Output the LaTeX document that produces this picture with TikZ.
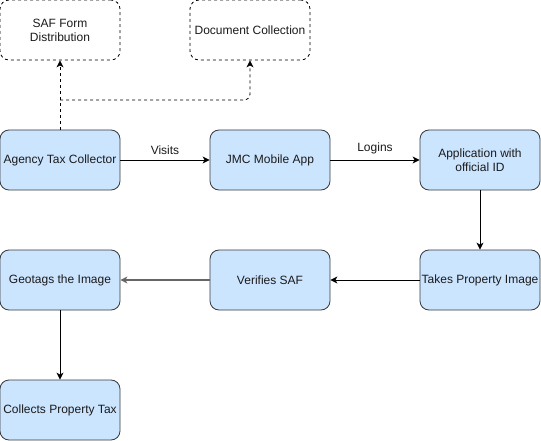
\documentclass[tikz,border=0pt]{standalone}
\usepackage{fontspec}
\setmainfont{Liberation Sans}
\usepackage{tikz}
\usetikzlibrary{calc,arrows,arrows.meta,positioning}
\tikzset{>={Stealth[length=7pt,width=7pt,inset=2pt]}}
\definecolor{boxfill}{HTML}{CCE5FF}
\definecolor{boxline}{HTML}{36393D}
\definecolor{txt}{HTML}{1A1A1A}
\definecolor{grayline}{HTML}{666666}

\begin{document}
\begin{tikzpicture}
[x=1pt, y=-1pt, font=\fontsize{12}{14}\selectfont, text=txt,
 stage/.style={draw=boxline, fill=boxfill, rounded corners=9pt, line width=0.8pt, minimum width=120pt, minimum height=60pt, align=center, inner sep=1pt},
 side/.style={draw=black, dash pattern=on 3pt off 3pt, rounded corners=9pt, line width=0.8pt, minimum width=120pt, minimum height=60pt, align=center, inner sep=1pt},
 flow/.style={->, line width=0.9pt}]
\useasboundingbox (0,0) rectangle (541,441);
% top row, dashed boxes
\node[side] (saf) at (60,30) {SAF Form\\Distribution};
\node[side] (docs) at (250,30) {Document Collection};
% main flow
\node[stage] (agency) at (60,160) {Agency Tax Collector};
\node[stage] (app) at (270,160) {JMC Mobile App};
\node[stage] (appid) at (480,160) {Application with\\official ID};
\node[stage] (photo) at (480,280) {Takes Property Image};
\node[stage] (verify) at (270,280) {Verifies SAF};
\node[stage] (geo) at (60,280) {Geotags the Image};
\node[stage] (tax) at (60,410) {Collects Property Tax};
\coordinate (split) at (60,100);
\draw[line width=0.8pt, dash pattern=on 3pt off 3pt] (agency.north) -- (split);
\draw[flow, line width=0.8pt, dash pattern=on 3pt off 3pt] (split) -- (saf.south);
\draw[flow, line width=0.8pt, dash pattern=on 3pt off 3pt, rounded corners=6pt] (split) -| (docs.south);
\path[flow]
(agency) edge node[above=2pt] {Visits} (app)
(app) edge node[above=2pt] {Logins} (appid)
(appid) edge (photo)
(photo) edge (verify)
(geo) edge (tax)
;
\draw[flow, draw=grayline, fill=grayline, line width=1.1pt] (verify) -- (geo);
\end{tikzpicture}
\end{document}
